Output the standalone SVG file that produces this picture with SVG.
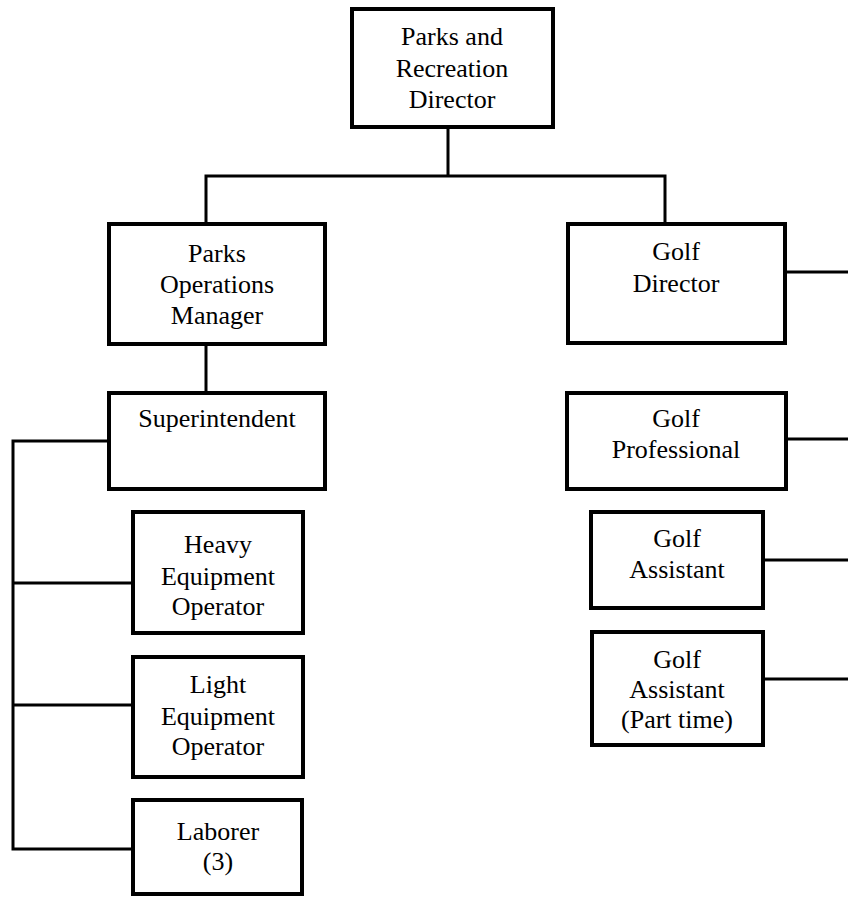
<svg xmlns="http://www.w3.org/2000/svg" width="848" height="897" viewBox="0 0 848 897">
<style>
.box{fill:#fff;stroke:#000;stroke-width:4}
.ln{fill:none;stroke:#000;stroke-width:3;stroke-linejoin:miter}
text{font-family:"Liberation Serif","Times New Roman",serif;font-size:26px;fill:#000;text-anchor:middle}
</style>
<rect width="848" height="897" fill="#fff"/>
<g id="connectors">
<path class="ln" d="M448 127V176M206 224V176H665V223"/>
<path class="ln" d="M206 345V392"/>
<path class="ln" d="M109 441H13V849H133M13 583H133M13 705H133"/>
<path class="ln" d="M785 272H848M786 439H848M763 560H848M763 679H848"/>
</g>
<g id="director">
<rect class="box" x="352" y="9" width="201" height="118"/>
<text x="452" y="45">Parks and</text>
<text x="452" y="77">Recreation</text>
<text x="452" y="108">Director</text>
</g>
<g id="parks-ops">
<rect class="box" x="109" y="224" width="216" height="120"/>
<text x="217" y="262">Parks</text>
<text x="217" y="293">Operations</text>
<text x="217" y="324">Manager</text>
</g>
<g id="golf-director">
<rect class="box" x="568" y="224" width="217" height="119"/>
<text x="676" y="260">Golf</text>
<text x="676" y="292">Director</text>
</g>
<g id="superintendent">
<rect class="box" x="109" y="393" width="216" height="96"/>
<text x="217" y="427">Superintendent</text>
</g>
<g id="heavy">
<rect class="box" x="133" y="512" width="170" height="121"/>
<text x="218" y="553">Heavy</text>
<text x="218" y="585">Equipment</text>
<text x="218" y="615">Operator</text>
</g>
<g id="light">
<rect class="box" x="133" y="657" width="170" height="120"/>
<text x="218" y="693">Light</text>
<text x="218" y="725">Equipment</text>
<text x="218" y="755">Operator</text>
</g>
<g id="laborer">
<rect class="box" x="133" y="800" width="169" height="94"/>
<text x="218" y="840">Laborer</text>
<text x="218" y="870">(3)</text>
</g>
<g id="golf-pro">
<rect class="box" x="567" y="393" width="219" height="96"/>
<text x="676" y="427">Golf</text>
<text x="676" y="458">Professional</text>
</g>
<g id="golf-assistant">
<rect class="box" x="591" y="512" width="172" height="96"/>
<text x="677" y="547">Golf</text>
<text x="677" y="578">Assistant</text>
</g>
<g id="golf-assistant-pt">
<rect class="box" x="592" y="632" width="171" height="113"/>
<text x="677" y="668">Golf</text>
<text x="677" y="698">Assistant</text>
<text x="677" y="728">(Part time)</text>
</g>
</svg>
